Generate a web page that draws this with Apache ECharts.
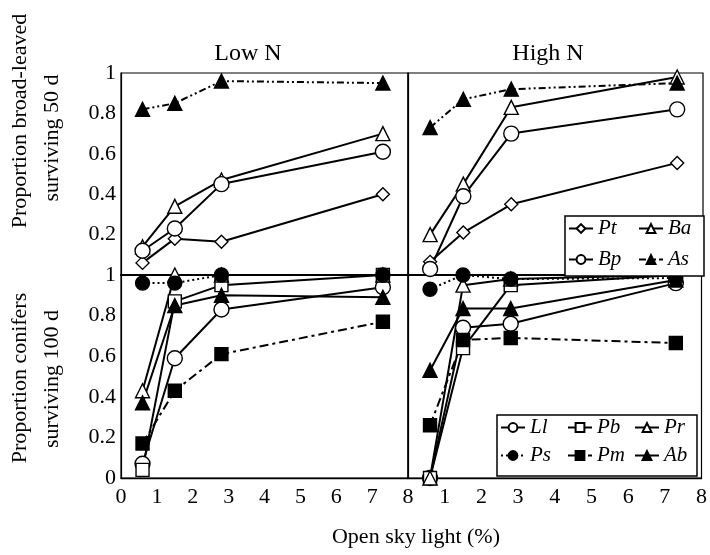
<!DOCTYPE html>
<html>
<head>
<meta charset="utf-8">
<script src="https://cdn.jsdelivr.net/npm/echarts@6/dist/echarts.min.js"></script>
<style>html,body{margin:0;padding:0;background:#fff;}#c{width:710px;height:555px;}</style>
</head>
<body>
<div id="c"></div>
<script>
// x positions (open sky light, %)
const lightX = [0.6, 1.5, 2.8, 7.3];
const xTicks = [0, 1, 2, 3, 4, 5, 6, 7, 8];
const yTicks = [0, 0.2, 0.4, 0.6, 0.8, 1];

// Broad-leaved, Low N
const ptLow = [0.06, 0.18, 0.165, 0.40];
const baLow = [0.14, 0.34, 0.47, 0.70];
const bpLow = [0.12, 0.23, 0.45, 0.61];
const asLow = [0.82, 0.85, 0.96, 0.95];
// Broad-leaved, High N
const ptHigh = [0.065, 0.21, 0.35, 0.555];
const baHigh = [0.20, 0.45, 0.83, 0.98];
const bpHigh = [0.03, 0.39, 0.70, 0.82];
const asHigh = [0.73, 0.87, 0.92, 0.95];

// Conifers, Low N
const llLow = [0.07, 0.59, 0.83, 0.94];
const pbLow = [0.04, 0.87, 0.95, 1.0];
const prLow = [0.43, 1.0, 1.0, 1.0];
const psLow = [0.96, 0.96, 1.0, 1.0];
const pmLow = [0.17, 0.43, 0.61, 0.77];
const abLow = [0.37, 0.85, 0.90, 0.89];
// Conifers, High N
const llHigh = [0.0, 0.74, 0.76, 0.96];
const pbHigh = [0.0, 0.64, 0.95, 1.0];
const prHigh = [0.0, 0.95, 0.98, 1.0];
const psHigh = [0.93, 1.0, 0.98, 0.985];
const pmHigh = [0.26, 0.68, 0.69, 0.665];
const abHigh = [0.53, 0.835, 0.835, 0.975];

const broadNames = ['Pt', 'Ba', 'Bp', 'As'];
const coniferNames = ['Ll', 'Pb', 'Pr', 'Ps', 'Pm', 'Ab'];

const FONT = '"Liberation Serif", "DejaVu Serif", serif';
const styles = {
  Pt: {symbol: 'diamond', size: 13, fill: '#fff', dash: 'solid'},
  Ba: {symbol: 'triangle', size: 14, fill: '#fff', dash: 'solid'},
  Bp: {symbol: 'circle', size: 15, fill: '#fff', dash: 'solid'},
  As: {symbol: 'triangle', size: 14, fill: '#000', dash: [7, 3, 2, 3, 2, 3]},
  Ll: {symbol: 'circle', size: 15, fill: '#fff', dash: 'solid'},
  Pb: {symbol: 'rect', size: 13, fill: '#fff', dash: 'solid'},
  Pr: {symbol: 'triangle', size: 14, fill: '#fff', dash: 'solid'},
  Ps: {symbol: 'circle', size: 14, fill: '#000', dash: [2, 3]},
  Pm: {symbol: 'rect', size: 13, fill: '#000', dash: [9, 4, 3, 4]},
  Ab: {symbol: 'triangle', size: 14, fill: '#000', dash: 'solid'}
};

function mk(name, vals, idx) {
  const s = styles[name];
  return {
    type: 'line', name: name, xAxisIndex: idx, yAxisIndex: idx,
    data: lightX.map((x, i) => [x, vals[i]]),
    symbol: s.symbol, symbolSize: s.size,
    itemStyle: {color: s.fill, borderColor: '#000', borderWidth: 1.4},
    lineStyle: {color: '#000', width: 2, type: s.dash},
    emphasis: {disabled: true},
    animation: false, z: 3
  };
}

const grids = [
  {left: 121, top: 73, width: 287, height: 202},
  {left: 408, top: 73, width: 295, height: 202},
  {left: 121, top: 275, width: 287, height: 203},
  {left: 408, top: 275, width: 295, height: 203}
].map(g => Object.assign(g, {show: true, borderColor: '#000', borderWidth: 1.2, backgroundColor: 'transparent'}));

const axisLabelStyle = {color: '#000', fontFamily: FONT, fontSize: 22};

const xAxes = [0, 1, 2, 3].map(i => ({
  type: 'value', gridIndex: i, min: xTicks[0], max: xTicks[xTicks.length - 1], interval: 1,
  splitLine: {show: false}, axisTick: {show: false},
  axisLine: {show: true, lineStyle: {color: '#000', width: i < 2 ? 2.2 : 1.4}},
  axisLabel: i < 2 ? {show: false} : Object.assign({show: true, margin: 8,
    formatter: v => (i === 3 && v === 0) ? '' : String(v)}, axisLabelStyle)
}));

const yAxes = [0, 1, 2, 3].map(i => ({
  type: 'value', gridIndex: i, min: yTicks[0], max: yTicks[yTicks.length - 1], interval: 0.2,
  splitLine: {show: false}, axisTick: {show: false},
  axisLine: {show: true, lineStyle: {color: '#000', width: 1.2}},
  axisLabel: (i === 1 || i === 3) ? {show: false} : Object.assign({show: true, margin: 5,
    formatter: v => (i === 0 && v === 0) ? '' : String(Math.round(v * 10) / 10)}, axisLabelStyle)
}));

const series = [
  mk('Pt', ptLow, 0), mk('Ba', baLow, 0), mk('Bp', bpLow, 0), mk('As', asLow, 0),
  mk('Pt', ptHigh, 1), mk('Ba', baHigh, 1), mk('Bp', bpHigh, 1), mk('As', asHigh, 1),
  mk('Ll', llLow, 2), mk('Pb', pbLow, 2), mk('Pr', prLow, 2), mk('Ps', psLow, 2), mk('Pm', pmLow, 2), mk('Ab', abLow, 2),
  mk('Ll', llHigh, 3), mk('Pb', pbHigh, 3), mk('Pr', prHigh, 3), mk('Ps', psHigh, 3), mk('Pm', pmHigh, 3), mk('Ab', abHigh, 3)
];

const legendText = (w) => ({color: '#000', fontFamily: FONT, fontSize: 21, fontStyle: 'italic',
  width: w, lineHeight: 20, overflow: 'none'});
const legends = [
  {data: broadNames, left: 565, top: 216, width: 130, orient: 'horizontal',
   itemWidth: 24, itemHeight: 11, itemGap: 10, padding: [2, 6, 6, 3],
   borderColor: '#000', borderWidth: 1.5, backgroundColor: '#fff',
   textStyle: legendText(30), selectedMode: false, z: 10},
  {data: coniferNames, left: 497, top: 415, width: 200, orient: 'horizontal',
   itemWidth: 24, itemHeight: 11, itemGap: 7, padding: [2, 3, 10, 3],
   borderColor: '#000', borderWidth: 1.5, backgroundColor: '#fff',
   textStyle: legendText(30), selectedMode: false, z: 10}
];

const txt = (t, x, y, size, rot) => ({
  type: 'text', x: x, y: y, rotation: rot || 0, silent: true,
  style: {text: t, fill: '#000', font: size + 'px ' + FONT, textAlign: 'center', textVerticalAlign: 'middle'}
});

const option = {
  backgroundColor: '#fff',
  animation: false,
  grid: grids,
  xAxis: xAxes,
  yAxis: yAxes,
  legend: legends,
  series: series,
  graphic: [
    txt('Low N', 248, 54, 24),
    txt('High N', 548, 54, 24),
    txt('Proportion broad-leaved', 20, 121, 22, Math.PI / 2),
    txt('surviving 50 d', 52, 138, 22, Math.PI / 2),
    txt('Proportion conifers', 20, 378, 22, Math.PI / 2),
    txt('surviving 100 d', 52, 379, 22, Math.PI / 2),
    txt('Open sky light (%)', 416, 537, 22)
  ]
};

const chart = echarts.init(document.getElementById('c'), null, {renderer: 'canvas'});
chart.setOption(option);
</script>
</body>
</html>
